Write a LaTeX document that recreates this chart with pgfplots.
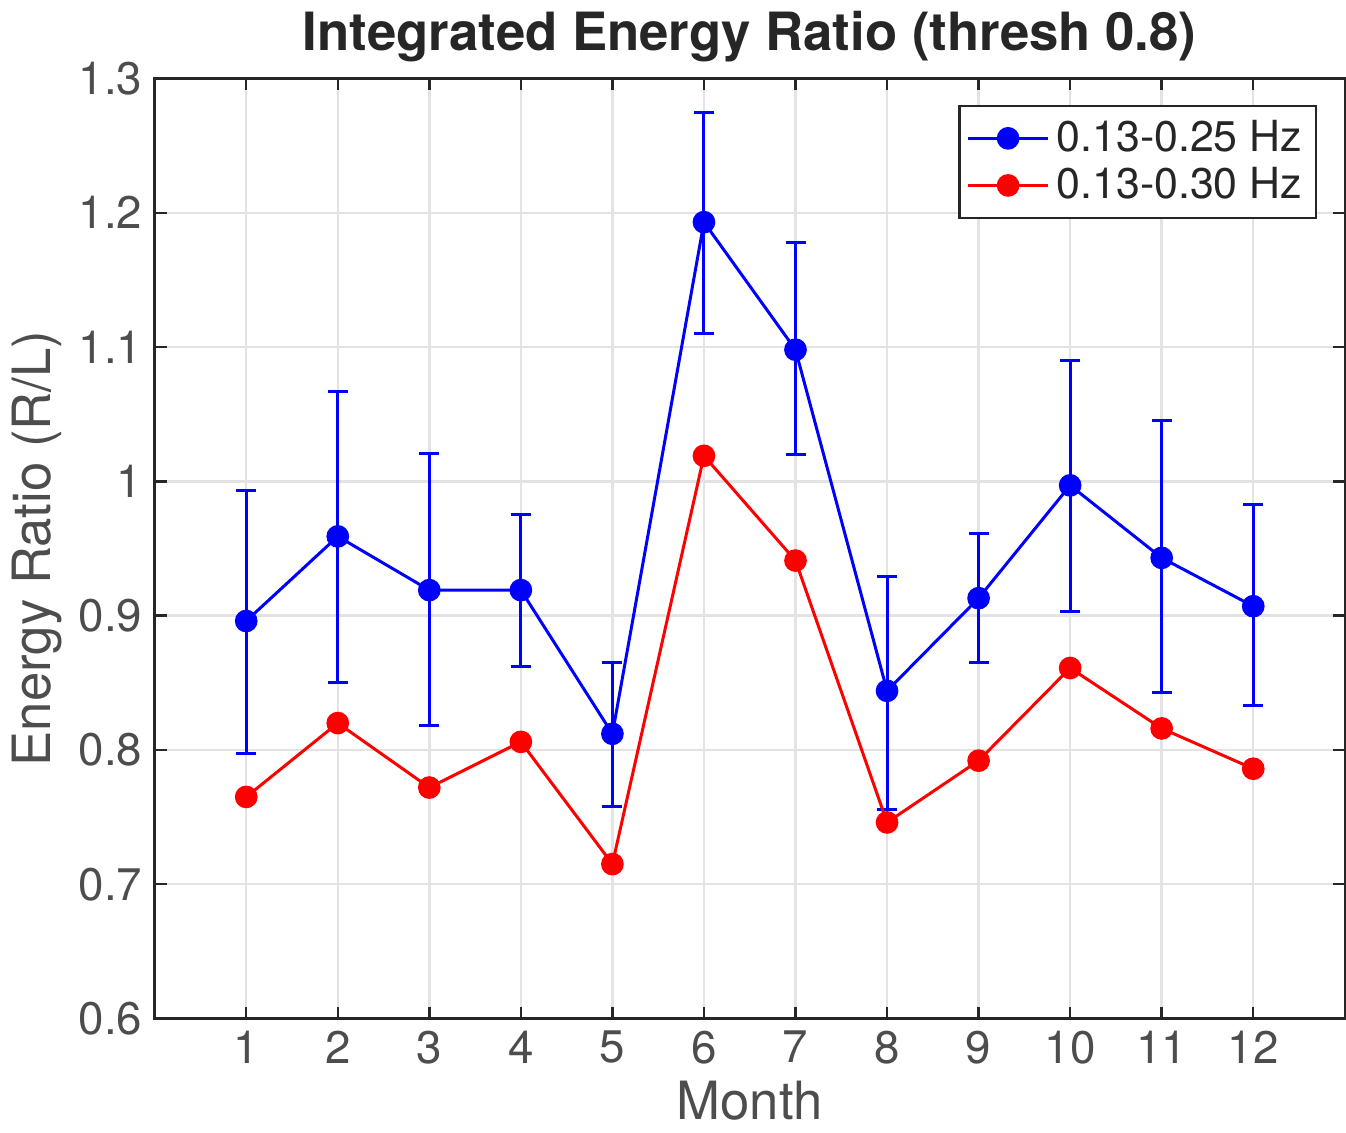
\documentclass[border=0pt]{standalone}
\usepackage{pgfplots}
\pgfplotsset{compat=1.18}
\usepackage{pgfplotstable}
\usepackage{fontspec}
\setmainfont{TeX Gyre Heros}
\definecolor{axgray}{HTML}{262626}
\definecolor{tkgray}{HTML}{4D4D4D}
\definecolor{grd}{HTML}{E3E3E3}
\pgfplotstableread{
x y ep em
1 0.896 0.097 0.099
2 0.959 0.108 0.109
3 0.919 0.102 0.101
4 0.919 0.056 0.057
5 0.812 0.053 0.054
6 1.193 0.082 0.083
7 1.098 0.080 0.078
8 0.844 0.085 0.088
9 0.913 0.048 0.048
10 0.997 0.093 0.094
11 0.943 0.102 0.100
12 0.907 0.076 0.074
}\blue
\pgfplotstableread{
x y
1 0.765
2 0.820
3 0.772
4 0.806
5 0.715
6 1.019
7 0.941
8 0.746
9 0.792
10 0.861
11 0.816
12 0.786
}\red
\begin{document}
\begin{tikzpicture}
\begin{axis}[
  scale only axis,
  width=11.9cm, height=9.4cm,
  xmin=0, xmax=13, ymin=0.6, ymax=1.3,
  xtick={1,...,12}, ytick={0.6,0.7,...,1.3},
  yticklabels={0.6,0.7,0.8,0.9,1,1.1,1.2,1.3},
  /pgf/number format/assume math mode=true,
  tick label style={font=\fontsize{13}{15}\selectfont, color=tkgray},
  tick align=inside, tick pos=both,
  major tick length=0.12cm,
  tick style={color=axgray, line width=0.7pt},
  axis line style={color=axgray, line width=0.7pt},
  grid=major, grid style={color=grd, line width=0.7pt},
  title={\bfseries Integrated Energy Ratio (thresh 0.8)},
  title style={font=\fontsize{15}{18}\selectfont, color=axgray, yshift=-5pt},
  xlabel={Month}, ylabel={Energy Ratio (R/L)},
  label style={font=\fontsize{15}{18}\selectfont, color=tkgray},
  xlabel style={yshift=2pt},
  ylabel style={yshift=-2pt},
  legend image code/.code={\draw[mark repeat=2,mark phase=2] plot coordinates {(0cm,0cm) (0.4cm,0cm) (0.8cm,0cm)};},
  legend style={at={(0.977,0.972)}, anchor=north east, draw=axgray, line width=0.7pt,
    font=\fontsize{12.2}{14}\selectfont, text=axgray, row sep=-1pt, inner sep=2pt},
  legend cell align=left,
]
\addplot[blue, line width=0.85pt, mark=*, mark size=2.8pt,
  error bars/.cd, y dir=both, y explicit,
  error bar style={line width=0.85pt, blue},
  error mark options={line width=0.85pt, blue, mark size=0.1cm, rotate=90}]
  table[x=x, y=y, y error plus=ep, y error minus=em] {\blue};
\addlegendentry{0.13-0.25 Hz}
\addplot[red, line width=0.85pt, mark=*, mark size=2.8pt] table[x=x, y=y] {\red};
\addlegendentry{0.13-0.30 Hz}
\end{axis}
\end{tikzpicture}
\end{document}
